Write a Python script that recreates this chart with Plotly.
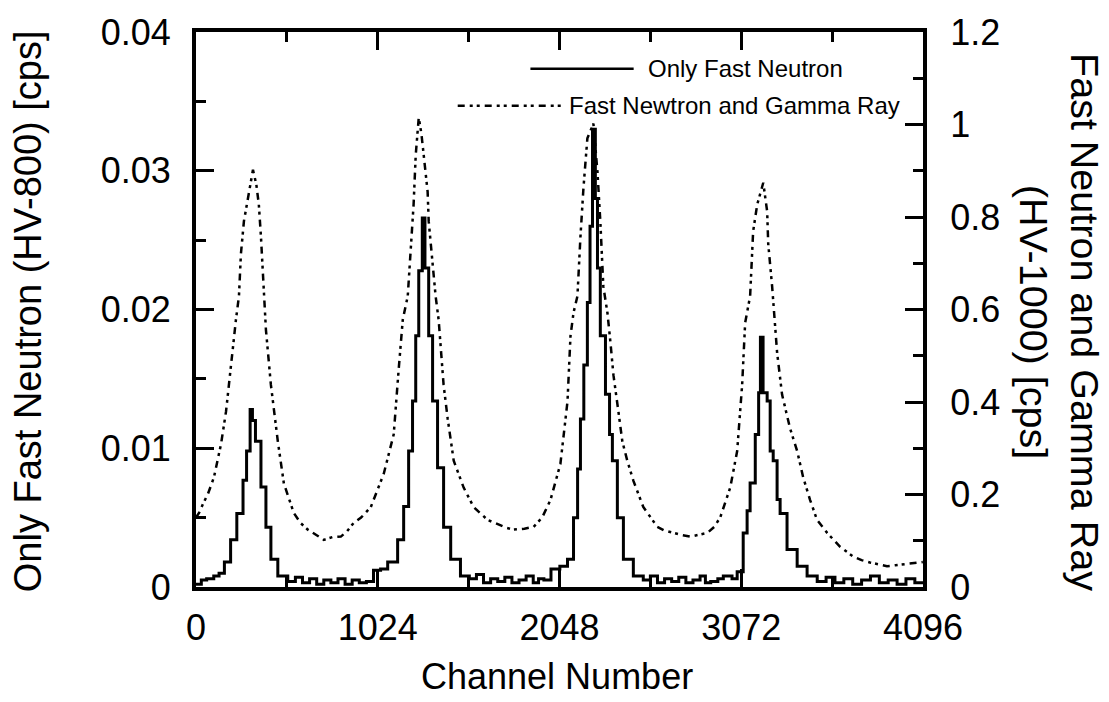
import plotly.graph_objects as go

# ---- Data ----
# Only Fast Neutron (HV-800), left axis [cps]
neutron_ch = [0, 30, 60, 100, 130, 160, 195, 230, 265, 285, 305, 318, 335, 366, 394, 422, 461, 517,
              560, 600, 640, 680, 720, 760, 800, 840, 880, 920, 960, 1000, 1040, 1080, 1136, 1170,
              1198, 1220, 1238, 1255, 1275, 1290, 1311, 1333, 1361, 1395, 1435, 1490, 1540, 1580,
              1620, 1660, 1700, 1740, 1780, 1820, 1860, 1900, 1930, 1960, 2000, 2050, 2093, 2127,
              2150, 2166, 2185, 2205, 2220, 2234, 2250, 2262, 2278, 2307, 2330, 2346, 2374, 2408,
              2464, 2520, 2560, 2600, 2640, 2680, 2720, 2760, 2800, 2840, 2870, 2900, 2940, 2971,
              3020, 3049, 3083, 3105, 3122, 3151, 3170, 3180, 3195, 3218, 3235, 3252, 3274, 3291,
              3330, 3387, 3443, 3500, 3550, 3600, 3650, 3700, 3750, 3800, 3850, 3900, 3950, 4000,
              4050, 4095]
neutron_cps = [0.0002, 0.0005, 0.0006, 0.0008, 0.0010, 0.0018, 0.0034, 0.0053, 0.0077, 0.0098, 0.0128,
               0.0120, 0.0105, 0.0072, 0.0043, 0.0020, 0.0008, 0.0004,
               0.0007, 0.0003, 0.0006, 0.0002, 0.0005, 0.0003, 0.0006, 0.0002, 0.0005, 0.0003, 0.0004,
               0.0012, 0.0013, 0.0018, 0.0034, 0.0058,
               0.0098, 0.0134, 0.0181, 0.0228, 0.0266, 0.0230, 0.0181, 0.0134, 0.0086, 0.0043, 0.0020,
               0.0008, 0.0006, 0.0009,
               0.0003, 0.0006, 0.0004, 0.0007, 0.0003, 0.0005, 0.0008, 0.0003, 0.0006, 0.0005, 0.0013,
               0.0015, 0.0020, 0.0050,
               0.0085, 0.0121, 0.0160, 0.0205, 0.0260, 0.0330, 0.0280, 0.0230, 0.0181, 0.0139, 0.0110,
               0.0091, 0.0050, 0.0020,
               0.0008, 0.0005, 0.0008, 0.0003, 0.0006, 0.0004, 0.0007, 0.0003, 0.0005, 0.0008, 0.0003,
               0.0004, 0.0006, 0.0008,
               0.0006, 0.0011, 0.0039, 0.0055, 0.0075, 0.0110, 0.0140, 0.0180, 0.0140, 0.0134, 0.0098,
               0.0091, 0.0063, 0.0053,
               0.0027, 0.0015, 0.0008, 0.0004, 0.0007, 0.0003, 0.0006, 0.0002, 0.0005, 0.0008, 0.0003,
               0.0005, 0.0002, 0.0006,
               0.0003, 0.0002]

# Fast Newtron and Gamma Ray (HV-1000), right axis [cps]
gamma_ch = [0, 17, 40, 68, 101, 141, 169, 197, 225, 242, 253, 270, 298, 321, 340, 354, 366, 383, 394,
            422, 461, 495, 551, 590, 630, 680, 720, 770, 816, 850, 889, 930, 985, 1058, 1114, 1142,
            1165, 1193, 1210, 1226, 1238, 1255, 1270, 1283, 1305, 1311, 1333, 1350, 1367, 1395, 1418,
            1452, 1508, 1564, 1643, 1700, 1750, 1789, 1850, 1902, 1950, 1997, 2053, 2093, 2110, 2127,
            2149, 2166, 2183, 2205, 2239, 2262, 2278, 2295, 2318, 2335, 2352, 2380, 2402, 2430, 2464,
            2520, 2599, 2640, 2689, 2740, 2785, 2830, 2881, 2920, 2954, 3010, 3049, 3077, 3094, 3122,
            3134, 3139, 3162, 3196, 3218, 3224, 3246, 3252, 3274, 3302, 3347, 3387, 3421, 3460, 3499,
            3556, 3629, 3702, 3750, 3797, 3850, 3893, 3940, 3983, 4030, 4068, 4095]
gamma_cps = [0.150, 0.160, 0.180, 0.202, 0.237, 0.309, 0.379, 0.486, 0.578, 0.629, 0.720, 0.791, 0.855,
             0.902, 0.870, 0.827, 0.757, 0.629, 0.556,
             0.437, 0.315, 0.224, 0.160, 0.138, 0.124, 0.112, 0.102, 0.108, 0.109, 0.120, 0.139, 0.150,
             0.173, 0.245, 0.330, 0.471,
             0.578, 0.629, 0.720, 0.827, 0.934, 1.015, 0.980, 0.934, 0.855, 0.791, 0.699, 0.629, 0.578,
             0.437, 0.364,
             0.273, 0.215, 0.173, 0.145, 0.135, 0.128, 0.124, 0.126, 0.130, 0.150, 0.188, 0.266, 0.401,
             0.543, 0.593,
             0.629, 0.757, 0.863, 0.970, 1.002, 0.897, 0.791, 0.650, 0.593, 0.529, 0.458, 0.379, 0.315,
             0.273, 0.230,
             0.173, 0.130, 0.122, 0.117, 0.112, 0.109, 0.112, 0.117, 0.130, 0.151, 0.215, 0.294, 0.437,
             0.571, 0.629,
             0.720, 0.769, 0.827, 0.874, 0.812, 0.742, 0.650, 0.614, 0.507, 0.416, 0.343, 0.294, 0.237,
             0.188, 0.145,
             0.117, 0.087, 0.066, 0.058, 0.053, 0.048, 0.045, 0.047, 0.049, 0.050, 0.053, 0.054]

x_ticks = [0, 1024, 2048, 3072, 4096]
left_ticks = [0, 0.01, 0.02, 0.03, 0.04]
left_labels = ["0", "0.01", "0.02", "0.03", "0.04"]
right_ticks = [0, 0.2, 0.4, 0.6, 0.8, 1.0, 1.2]
right_labels = ["0", "0.2", "0.4", "0.6", "0.8", "1", "1.2"]

FONT = "Liberation Sans, Arial, Helvetica, sans-serif"

fig = go.Figure()
fig.add_trace(go.Scatter(x=neutron_ch, y=neutron_cps, mode="lines", line_shape="hv",
                         line=dict(color="black", width=3), name="Only Fast Neutron"))
fig.add_trace(go.Scatter(x=gamma_ch, y=gamma_cps, mode="lines", yaxis="y2",
                         line=dict(color="black", width=2.5, dash="7px,5px,3px,4px,3px,5px"),
                         name="Fast Newtron and Gamma Ray"))

axis_common = dict(showline=True, linecolor="black", linewidth=4, ticks="inside",
                   tickcolor="black", tickwidth=3, ticklen=18, showgrid=False, zeroline=False,
                   tickfont=dict(family=FONT, size=36, color="black"))

fig.update_layout(
    width=1109, height=702,
    margin=dict(l=196, r=186, t=23, b=115),
    paper_bgcolor="white", plot_bgcolor="white",
    showlegend=False,
    xaxis=dict(range=[0, 4096], tickvals=x_ticks, ticktext=[str(v) for v in x_ticks],
               mirror="ticks", ticklabelstandoff=6,
               minor=dict(ticks="inside", ticklen=10, tickwidth=3, tickcolor="black", dtick=512),
               **axis_common),
    yaxis=dict(range=[0, 0.04], tickvals=left_ticks, ticktext=left_labels, mirror=False,
               ticklabelstandoff=14,
               minor=dict(ticks="inside", ticklen=10, tickwidth=3, tickcolor="black", dtick=0.005),
               **axis_common),
    yaxis2=dict(range=[0, 1.2], tickvals=right_ticks, ticktext=right_labels, overlaying="y",
                side="right", ticklabelstandoff=16,
                minor=dict(ticks="inside", ticklen=10, tickwidth=3, tickcolor="black", dtick=0.1),
                **axis_common),
)

# Axis titles
fig.add_annotation(text="Channel Number", xref="paper", yref="paper", x=0.497, y=-0.162,
                   showarrow=False, xanchor="center", yanchor="middle",
                   font=dict(family=FONT, size=36, color="black"))
fig.add_annotation(text="Only Fast Neutron (HV-800) [cps]", xref="paper", yref="paper",
                   x=-0.231, y=0.497, textangle=-90, showarrow=False,
                   xanchor="center", yanchor="middle",
                   font=dict(family=FONT, size=38, color="black"))
fig.add_annotation(text="Fast Neutron and Gamma Ray<br>(HV-1000) [cps]", xref="paper", yref="paper",
                   x=1.188, y=0.478, textangle=90, showarrow=False,
                   xanchor="center", yanchor="middle",
                   font=dict(family=FONT, size=39.5, color="black"))

# Legend drawn inside the plot (right-aligned text)
fig.add_shape(type="line", xref="paper", yref="paper", x0=0.460, x1=0.602, y0=0.934, y1=0.934,
              line=dict(color="black", width=2.5))
fig.add_annotation(text="Only Fast Neutron", xref="paper", yref="paper", x=0.893, y=0.934,
                   xanchor="right", yanchor="middle", showarrow=False,
                   font=dict(family=FONT, size=24, color="black"))
fig.add_shape(type="line", xref="paper", yref="paper", x0=0.360, x1=0.505, y0=0.867, y1=0.867,
              line=dict(color="black", width=2.5, dash="7px,5px,3px,4px,3px,5px"))
fig.add_annotation(text="Fast Newtron and Gamma Ray", xref="paper", yref="paper", x=0.971, y=0.867,
                   xanchor="right", yanchor="middle", showarrow=False,
                   font=dict(family=FONT, size=24, color="black"))

fig.write_html("out.html")
